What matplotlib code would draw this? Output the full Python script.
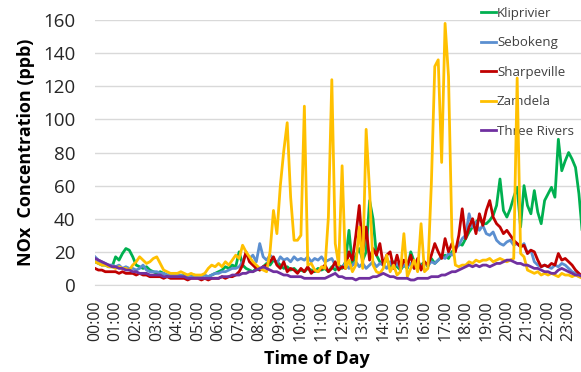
import numpy as np
import matplotlib
matplotlib.use('Agg')
import matplotlib.pyplot as plt

plt.rcParams['font.family'] = ['Open Sans', 'DejaVu Sans']

# 10-minute readings, 6 per hour, 00:00 .. 23:50
kliprivier = [14, 13, 12, 12, 11, 11,
              17, 15, 19, 22, 21, 17,
              12, 11, 10, 11, 9, 8,
              7, 8, 7, 6, 6, 6,
              6, 5, 6, 5, 5, 6,
              5, 5, 4, 5, 6, 7,
              8, 9, 11, 10, 12, 11,
              20, 12, 10, 9, 8, 10,
              9, 11, 13, 12, 15, 14,
              12, 10, 11, 9, 10, 8,
              9, 8, 10, 9, 8, 10,
              9, 10, 8, 11, 9, 12,
              10, 14, 33, 12, 18, 22,
              15, 20, 51, 40, 18, 14,
              12, 16, 10, 14, 11, 9,
              12, 10, 20, 14, 10, 12,
              14, 11, 16, 13, 15, 17,
              18, 16, 20, 22, 25, 24,
              28, 32, 35, 38, 40, 37,
              37, 39, 42, 48, 64, 45,
              41, 46, 53, 59, 35, 60,
              48, 43, 57, 44, 37, 51,
              55, 59, 53, 88, 69, 75,
              80, 76, 71, 55, 31, 28]

sebokeng = [17, 15, 14, 13, 12, 12,
            11, 12, 10, 11, 10, 10,
            9, 10, 12, 9, 8, 8,
            8, 7, 7, 6, 6, 6,
            6, 6, 5, 6, 5, 5,
            5, 5, 6, 5, 6, 7,
            7, 8, 8, 9, 10, 10,
            11, 14, 19, 16, 18, 14,
            25, 17, 15, 18, 16, 13,
            17, 15, 16, 14, 17, 15,
            16, 15, 17, 14, 16, 15,
            17, 14, 15, 16, 12, 10,
            11, 13, 10, 12, 14, 11,
            13, 10, 12, 14, 11, 13,
            12, 10, 14, 11, 13, 10,
            12, 11, 13, 10, 12, 11,
            13, 12, 14, 13, 15, 17,
            16, 19, 18, 22, 24, 28,
            30, 43, 35, 38, 33, 36,
            31, 30, 32, 27, 25, 24,
            26, 27, 24, 25, 23, 25,
            19, 21, 14, 12, 11, 12,
            11, 10, 12, 11, 13, 12,
            10, 8, 7, 5, 5, 4]

sharpeville = [10, 9, 9, 8, 8, 8,
               8, 7, 8, 7, 7, 7,
               6, 7, 6, 6, 5, 5,
               5, 5, 4, 5, 4, 4,
               4, 4, 4, 3, 4, 4,
               4, 3, 4, 3, 4, 4,
               4, 5, 4, 5, 5, 6,
               8, 12, 20, 14, 12, 10,
               9, 11, 12, 14, 17, 12,
               10, 14, 8, 10, 9, 7,
               10, 8, 11, 7, 9, 8,
               10, 12, 8, 10, 14, 9,
               11, 10, 20, 15, 30, 48,
               20, 35, 15, 22, 18, 25,
               12, 18, 20, 10, 18, 10,
               15, 12, 18, 10, 16, 9,
               14, 12, 18, 25, 20, 16,
               28, 20, 25, 20, 30, 46,
               28, 35, 40, 31, 43, 36,
               45, 51, 41, 37, 35, 31,
               33, 30, 27, 25, 23, 24,
               19, 21, 20, 15, 11, 12,
               11, 13, 12, 19, 15, 16,
               14, 12, 9, 7, 5, 5]

zamdela = [14, 13, 12, 12, 11, 11,
           10, 11, 10, 10, 9, 12,
           14, 17, 15, 13, 14, 16,
           17, 13, 9, 8, 7, 7,
           7, 8, 7, 6, 7, 6,
           6, 6, 7, 10, 12, 11,
           13, 11, 14, 12, 15, 18,
           16, 24, 20, 17, 14, 12,
           10, 9, 8, 20, 45, 31,
           60, 81, 98, 53, 27, 27,
           30, 108, 12, 13, 9, 8,
           11, 10, 41, 124, 25, 12,
           72, 10, 15, 8, 12, 35,
           10, 94, 57, 12, 8, 7,
           10, 18, 8, 12, 6, 8,
           31, 5, 10, 15, 8, 37,
           8, 10, 61, 132, 136, 74,
           158, 126, 29, 12, 11, 12,
           12, 14, 13, 15, 14, 15,
           15, 16, 14, 15, 16, 15,
           14, 15, 16, 125, 19, 17,
           9, 8, 7, 8, 6, 7,
           6, 7, 6, 5, 7, 6,
           6, 5, 6, 5, 4, 4]

three_rivers = [16, 15, 14, 13, 12, 11,
                11, 10, 10, 9, 9, 8,
                8, 7, 7, 7, 6, 6,
                6, 6, 5, 5, 5, 5,
                5, 5, 5, 4, 4, 4,
                4, 4, 4, 4, 4, 4,
                4, 5, 5, 5, 6, 6,
                6, 7, 7, 8, 8, 9,
                10, 11, 10, 9, 8, 8,
                7, 6, 6, 5, 5, 5,
                5, 4, 4, 4, 4, 4,
                4, 4, 5, 6, 7, 5,
                5, 4, 4, 4, 3, 4,
                4, 4, 4, 5, 5, 6,
                7, 6, 5, 5, 4, 4,
                4, 4, 3, 3, 4, 4,
                4, 4, 5, 5, 5, 6,
                6, 7, 8, 8, 9, 10,
                11, 12, 11, 12, 11, 12,
                12, 11, 12, 13, 13, 14,
                15, 15, 14, 13, 13, 12,
                12, 11, 10, 10, 9, 8,
                8, 7, 7, 9, 10, 9,
                8, 7, 6, 6, 5, 5]

hour_labels = ['%02d:00' % h for h in range(24)]
series = [('Kliprivier', kliprivier, '#00b050'),
          ('Sebokeng', sebokeng, '#5b8fd0'),
          ('Sharpeville', sharpeville, '#c00000'),
          ('Zamdela', zamdela, '#ffc000'),
          ('Three Rivers', three_rivers, '#7030a0')]

t = np.arange(len(kliprivier)) / 6.0

fig = plt.figure(figsize=(5.81, 3.72), dpi=100)
ax = fig.add_axes([0.1635, 0.234, 0.8365, 0.712])

for name, vals, col in series:
    ax.plot(t, vals, color=col, lw=2.0, label=name, solid_joinstyle='round')

ax.set_xlim(0, 23.6)
ax.set_ylim(0, 160)
ax.set_yticks(range(0, 161, 20))
ax.set_xticks(range(24))
ax.set_xticklabels(hour_labels, rotation=90, fontsize=11.5, color='#262626')
ax.tick_params(axis='y', labelsize=13.5, length=0, pad=14, labelcolor='#262626')
ax.tick_params(axis='x', length=0, pad=11)
ax.grid(axis='y', color='#d9d9d9', lw=1)
ax.set_axisbelow(True)
for s in ['top', 'right', 'left']:
    ax.spines[s].set_visible(False)
ax.spines['bottom'].set_color('#d9d9d9')

ax.set_ylabel('NOx  Concentration (ppb)', fontsize=13, fontweight='bold', labelpad=6)
ax.set_xlabel('Time of Day', fontsize=13, fontweight='bold')
ax.xaxis.set_label_coords(0.457, -0.245)

leg = ax.legend(loc='upper left', bbox_to_anchor=(0.828, 0.982),
                bbox_transform=fig.transFigure, frameon=False, fontsize=9.5,
                handlelength=1.1, handletextpad=0.1, labelspacing=1.25,
                borderaxespad=0, borderpad=0)
for txt in leg.get_texts():
    txt.set_color('#404040')
for ln in leg.get_lines():
    ln.set_linewidth(2.0)
leg.set_zorder(1.5)

fig.savefig('out.png', dpi=100)
